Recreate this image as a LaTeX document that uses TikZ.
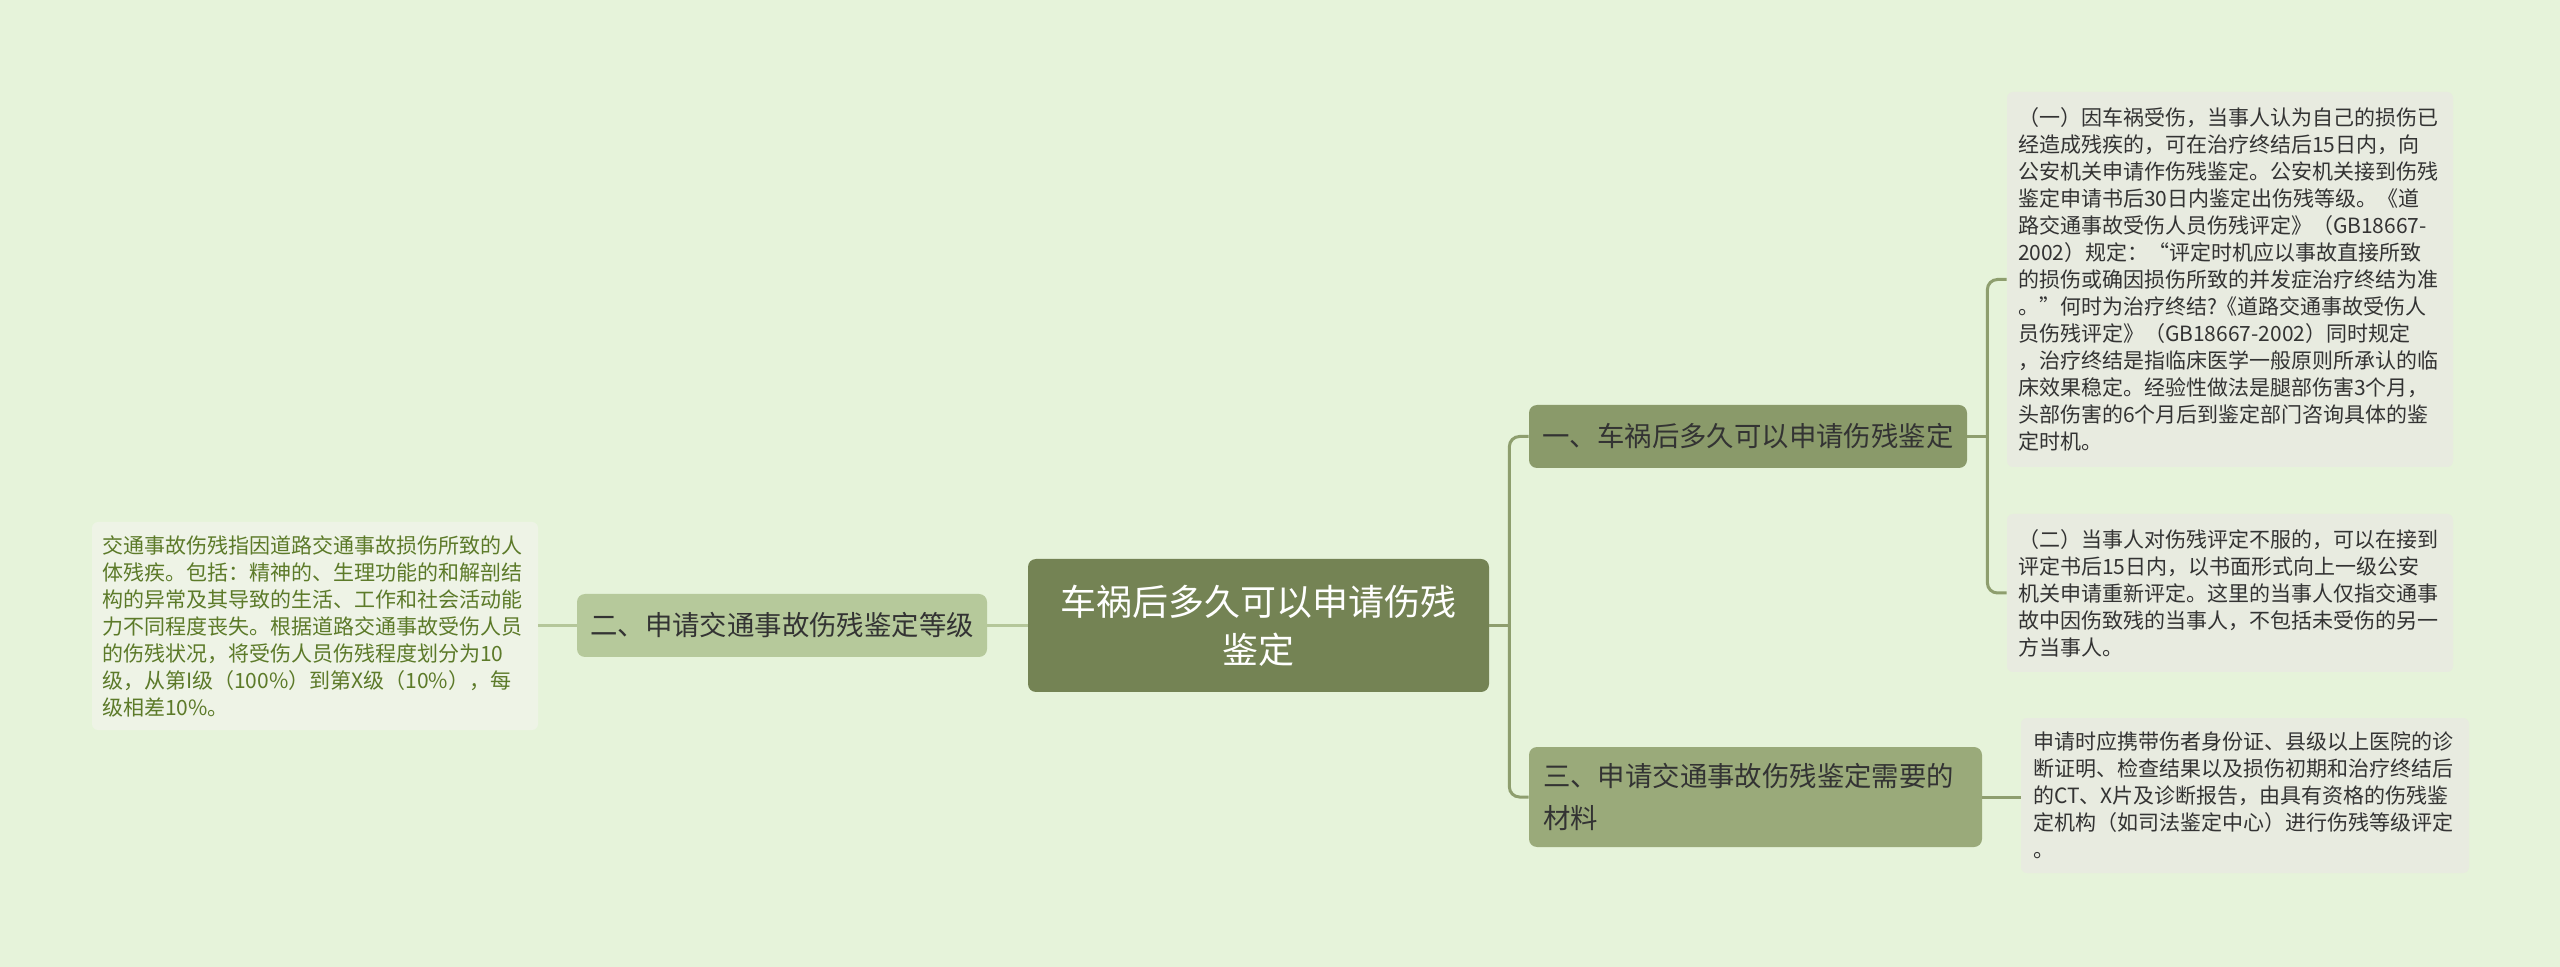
\documentclass[tikz,border=0pt]{standalone}
\usepackage{fontspec}
\newfontfamily\cjk{Noto Sans CJK SC}
\definecolor{bgcol}{HTML}{E6F3DA}
\definecolor{rootcol}{HTML}{748354}
\definecolor{topiccol}{HTML}{8A9A6A}
\definecolor{topiclight}{HTML}{9AAA7A}
\definecolor{topicpale}{HTML}{B6C99B}
\definecolor{leafcol}{HTML}{E8EBE0}
\definecolor{leafpale}{HTML}{EEF3E6}
\definecolor{linecol}{HTML}{8E9E6E}
\definecolor{linepale}{HTML}{B5C79A}
\definecolor{textdark}{HTML}{333333}
\definecolor{textgreen}{HTML}{5C7A29}
\usetikzlibrary{positioning, calc}

\tikzset{
  root/.style={fill=rootcol, rounded corners=4pt, text=white, align=center,
    font=\cjk\fontsize{18pt}{24pt}\selectfont, minimum width=230.5pt,
    minimum height=66.5pt, inner sep=0pt},
  topic/.style={rounded corners=4pt, text=textdark, align=left,
    font=\cjk\fontsize{13.7pt}{21pt}\selectfont, inner ysep=0pt},
  leaf/.style={fill=leafcol, rounded corners=3pt, text=textdark, align=left,
    font=\cjk\fontsize{10.5pt}{13.5pt}\selectfont, inner ysep=0pt},
  link/.style={draw=linecol, line width=1.5pt, rounded corners=5pt},
  linkpale/.style={draw=linepale, line width=1.5pt}
}

\begin{document}
\begin{tikzpicture}[x=0.5pt, y=-0.5pt]
    \useasboundingbox[fill=bgcol] (0,0) rectangle (2560,967);

    \node[root] (root) at (1258.5,625.5) {车祸后多久可以申请伤残\\鉴定};

    \node[topic, fill=topiccol, minimum width=219pt, minimum height=31.5pt,
      inner xsep=0pt, align=center] (t1) at (1748,436.5) {一、车祸后多久可以申请伤残鉴定};
    \node[topic, fill=topicpale, minimum width=205pt, minimum height=31.5pt,
      inner xsep=0pt, align=center] (t2) at (782,625.5) {二、申请交通事故伤残鉴定等级};
    \node[topic, fill=topiclight, text width=212.5pt, inner xsep=7pt,
      minimum height=50pt] (t3) at (1755.5,797) {三、申请交通事故伤残鉴定需要的\\材料};

    \node[leaf, text width=212pt, inner xsep=5.5pt, minimum height=187.5pt] (l1) at (2230,279.5) {%
      （一）因车祸受伤，当事人认为自己的损伤已\\
      经造成残疾的，可在治疗终结后15日内，向\\
      公安机关申请作伤残鉴定。公安机关接到伤残\\
      鉴定申请书后30日内鉴定出伤残等级。《道\\
      路交通事故受伤人员伤残评定》（GB18667-\\
      2002）规定：“评定时机应以事故直接所致\\
      的损伤或确因损伤所致的并发症治疗终结为准\\
      。”何时为治疗终结?《道路交通事故受伤人\\
      员伤残评定》（GB18667-2002）同时规定\\
      ，治疗终结是指临床医学一般原则所承认的临\\
      床效果稳定。经验性做法是腿部伤害3个月，\\
      头部伤害的6个月后到鉴定部门咨询具体的鉴\\
      定时机。};
    \node[leaf, text width=212pt, inner xsep=5.5pt, minimum height=79pt] (l2) at (2230,593) {%
      （二）当事人对伤残评定不服的，可以在接到\\
      评定书后15日内，以书面形式向上一级公安\\
      机关申请重新评定。这里的当事人仅指交通事\\
      故中因伤致残的当事人，不包括未受伤的另一\\
      方当事人。};
    \node[leaf, text width=212pt, inner xsep=6pt, minimum height=77.5pt] (l3) at (2245,795.5) {%
      申请时应携带伤者身份证、县级以上医院的诊\\
      断证明、检查结果以及损伤初期和治疗终结后\\
      的CT、X片及诊断报告，由具有资格的伤残鉴\\
      定机构（如司法鉴定中心）进行伤残等级评定\\
      。};
    \node[leaf, fill=leafpale, text=textgreen, text width=213pt, inner xsep=5pt,
      minimum height=104pt] (lp) at (315,626) {%
      交通事故伤残指因道路交通事故损伤所致的人\\
      体残疾。包括：精神的、生理功能的和解剖结\\
      构的异常及其导致的生活、工作和社会活动能\\
      力不同程度丧失。根据道路交通事故受伤人员\\
      的伤残状况，将受伤人员伤残程度划分为10\\
      级，从第I级（100\%）到第X级（10\%），每\\
      级相差10\%。};

    \draw[link] (root.east) -- ([xshift=10pt]root.east);
    \draw[link] (t1.west) -| ([xshift=10pt]root.east) |- (t3.west);
    \draw[link] (t1.east) -- ([xshift=10pt]t1.east);
    \draw[link] (l1.west) -| ([xshift=10pt]t1.east) |- (l2.west);
    \draw[link] (t3.east) -- (t3.east -| l3.west);
    \draw[linkpale] (root.west) -- (t2.east);
    \draw[linkpale] (t2.west) -- (t2.west -| lp.east);
\end{tikzpicture}
\end{document}
